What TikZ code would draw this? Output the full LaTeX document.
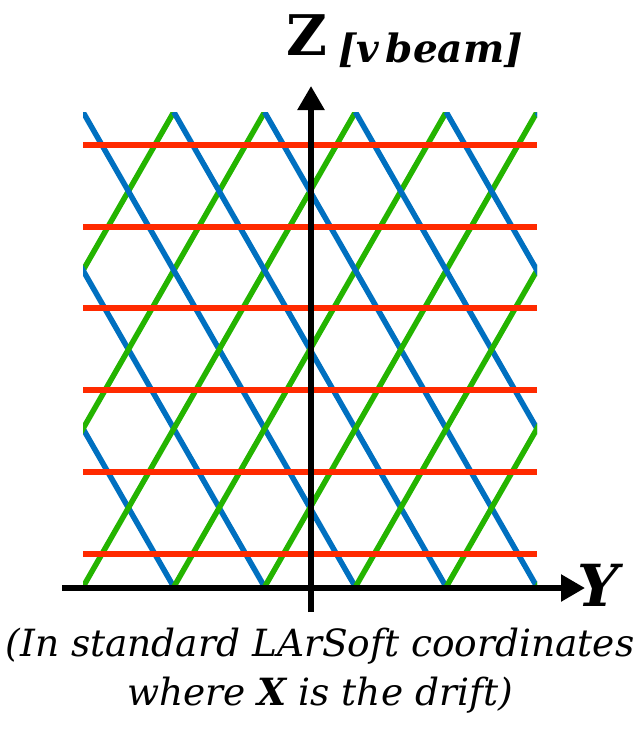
\documentclass[tikz,border=0pt]{standalone}
\usepackage{fontspec}
\setmainfont{DejaVu Serif}
\usetikzlibrary{arrows.meta}
\definecolor{wirered}{HTML}{FF2A00}
\definecolor{wireblue}{HTML}{0070C0}
\definecolor{wiregreen}{HTML}{24B400}
\tikzset{
  wire/.style={line width=5.5pt},
  axis/.style={line width=5.5pt,-{Triangle[length=24pt,width=26pt]}},
}
\begin{document}
\begin{tikzpicture}[x=1pt,y=-1pt,line join=round]
  % y grows downward, as in the picture (1pt = 1px)
  \useasboundingbox (0,0) rectangle (640,732);
  \coordinate (SW) at (83,587);
  \coordinate (NE) at (537,112);
  % induction planes: lines at +-60 deg, clipped to the active area
  \begin{scope}
    \clip (SW) rectangle (NE);
    \foreach \k in {-3,...,5}{
      \draw[wire,wireblue] ({83+90.8*\k},112)--({83+90.8*(\k+3)},587);
      \draw[wire,wiregreen] ({83+90.8*\k},587)--({83+90.8*(\k+3)},112);
    }
  \end{scope}
  % collection plane
  \foreach \y in {145,227,308,390,472,554}
    \draw[wire,wirered] (83,\y)--(537,\y);
  % axes
  \coordinate (yfrom) at (62,588);
  \coordinate (yto) at (585,588);
  \coordinate (zfrom) at (311,612);
  \coordinate (zto) at (311,86);
  \draw[axis] (yfrom)--(yto);
  \draw[axis] (zfrom)--(zto);
  \node[anchor=base,inner sep=0pt,font=\bfseries\fontsize{56}{56}\selectfont] (zlab) at (307,55) {Z};
  \node[anchor=base west,inner sep=0pt,font=\bfseries\itshape\fontsize{39}{39}\selectfont] (zunit) at (338,62) {[v\,beam]};
  \node[anchor=base west,inner sep=0pt,font=\bfseries\itshape\fontsize{58}{58}\selectfont] (ylab) at (577,606) {Y};
  % caption
  \node[anchor=base,inner sep=0pt,font=\itshape\fontsize{37.5}{37.5}\selectfont] (cap1) at (320,656) {(In standard LArSoft coordinates};
  \node[anchor=base,inner sep=0pt,font=\itshape\fontsize{37.5}{37.5}\selectfont] (cap2) at (320,705) {where \textbf{X} is the drift)};
\end{tikzpicture}
\end{document}
